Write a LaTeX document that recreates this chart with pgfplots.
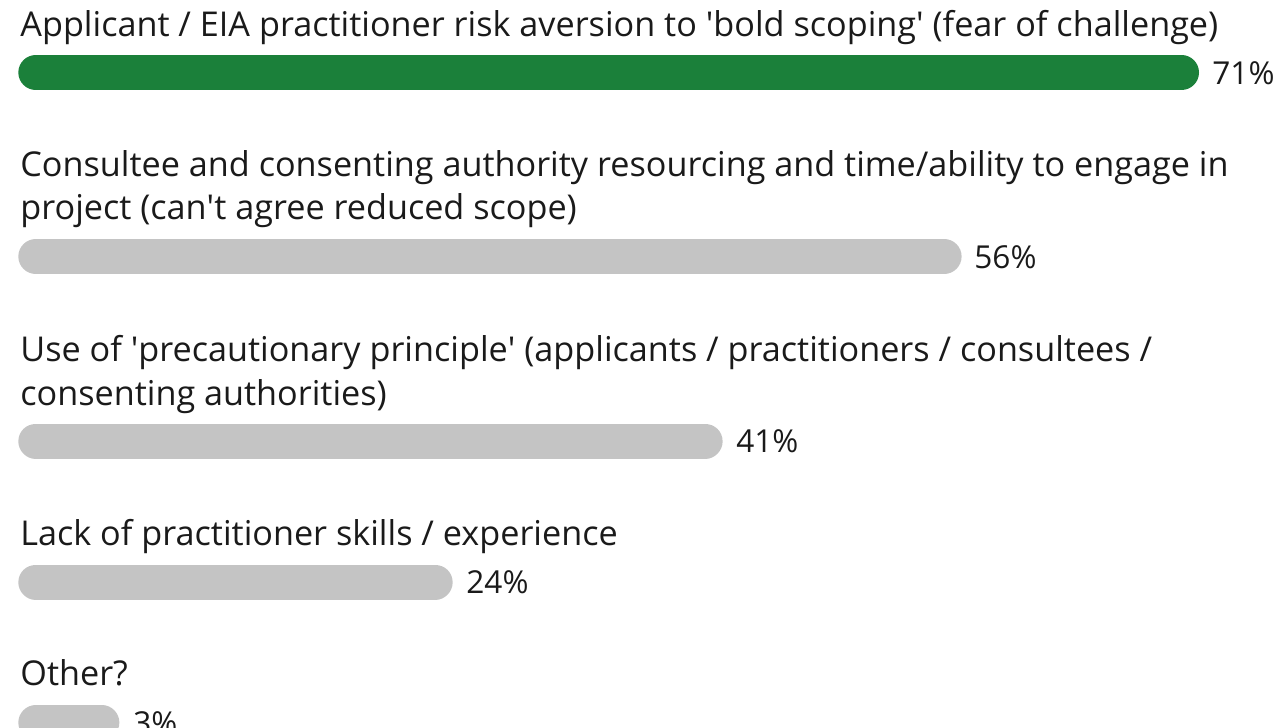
\documentclass[border=0pt]{standalone}
\usepackage{fontspec}
\setmainfont{Open Sans}
\usepackage{pgfplots}
\pgfplotsset{compat=1.18}
\definecolor{barg}{RGB}{27,128,58}
\definecolor{bargr}{RGB}{196,196,196}
\definecolor{txt}{RGB}{26,26,26}
\newcommand{\q}{\textquotesingle}
\tikzset{lbl/.style={inner sep=0pt, anchor=base west, text=txt, font=\fontsize{17.1}{20}\selectfont},
  val/.style={inner sep=0pt, anchor=base west, text=txt, font=\fontsize{15.8}{20}\selectfont}}
\begin{document}
\begin{tikzpicture}
\useasboundingbox (0,0) rectangle (638pt,364pt);
\clip (0,0) rectangle (638pt,364pt);
\begin{axis}[at={(0,0)},anchor=south west, scale only axis, width=638pt, height=364pt,
  xmin=-4.515, xmax=75.84, ymin=0, ymax=728, y dir=reverse, hide axis, clip=false]
% bars: start and end of the rounded bar centre line (percent units)
\addplot[barg, line width=17.5pt, line cap=round] coordinates {(-2.26,72.5) (69.89,72.5)};
\addplot[bargr, line width=17.5pt, line cap=round] coordinates {(-2.26,256.5) (54.94,256.5)};
\addplot[bargr, line width=17.5pt, line cap=round] coordinates {(-2.26,441) (39.89,441)};
\addplot[bargr, line width=17.5pt, line cap=round] coordinates {(-2.26,582) (22.89,582)};
\addplot[bargr, line width=17.5pt, line cap=round] coordinates {(-2.26,722.7) (1.90,722.7)};
% value labels
\node[val] at (axis cs:71.81,84) {71\%};
\node[val] at (axis cs:56.82,268) {56\%};
\node[val] at (axis cs:41.83,452.5) {41\%};
\node[val] at (axis cs:24.83,593.5) {24\%};
\node[val] at (axis cs:3.86,734) {3\%};
% category labels
\node[lbl] at (axis cs:-3.256,36) {Applicant / EIA practitioner risk aversion to \q bold scoping\q{} (fear of challenge)};
\node[lbl] at (axis cs:-3.256,176) {Consultee and consenting authority resourcing and time/ability to engage in};
\node[lbl] at (axis cs:-3.256,219) {project (can\q t agree reduced scope)};
\node[lbl] at (axis cs:-3.256,361) {Use of \q precautionary principle\q{} (applicants / practitioners / consultees /};
\node[lbl] at (axis cs:-3.256,405) {consenting authorities)};
\node[lbl] at (axis cs:-3.256,545) {Lack of practitioner skills / experience};
\node[lbl] at (axis cs:-3.256,685) {Other?};
\end{axis}
\end{tikzpicture}
\end{document}
